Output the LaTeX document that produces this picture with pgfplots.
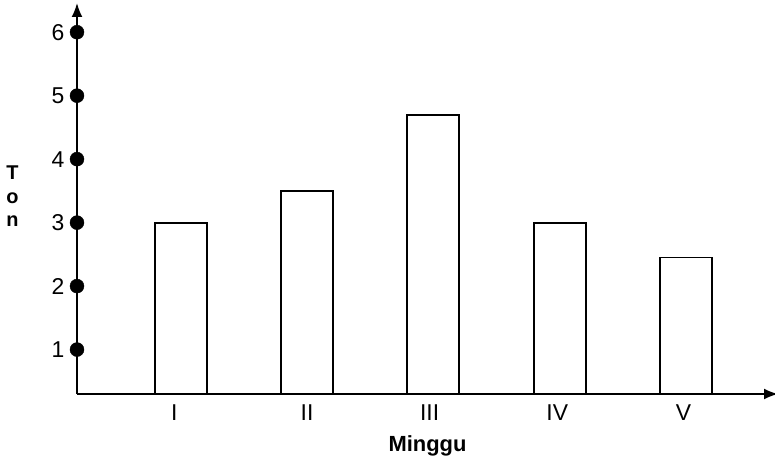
\documentclass[border=0pt]{standalone}
\usepackage{pgfplots}
\pgfplotsset{compat=1.18}
\usepackage{fontspec}
\setmainfont{Liberation Sans}
\usetikzlibrary{arrows.meta}
\begin{document}
\begin{tikzpicture}
\begin{axis}[
  scale only axis, width=701bp, height=391bp,
  xmin=0.18, xmax=5.727, ymin=0.3, ymax=6.46,
  axis lines=left,
  axis line style={line width=1.8bp, -{Latex[length=14bp,width=11bp]}},
  ytick={1,2,3,4,5,6}, xtick={0.95,2.0,2.97,3.98,4.98}, xticklabels={I,II,III,IV,V},
  major tick length=0pt,
  tick label style={font=\fontsize{23}{27}\selectfont},
  yticklabel style={xshift=-9bp},
  xticklabel style={yshift=-7bp},
  /pgf/number format/assume math mode=true,
  xlabel={Minggu},
  ylabel={\begin{tabular}{@{}c@{}}T\\o\\n\end{tabular}},
  every axis x label/.style={at={(axis description cs:0.5,0)}, anchor=north, yshift=-38bp, font=\fontsize{22}{25}\selectfont\bfseries},
  every axis y label/.style={at={(axis description cs:0,0.5)}, anchor=east, xshift=-55bp, font=\fontsize{20}{23.5}\selectfont\bfseries},
]
\addplot[ybar, bar width=52bp, draw=black, line width=1.8bp, fill=none]
  coordinates {(1,3.0) (2,3.5) (3,4.7) (4,3.0) (5,2.45)};
\addplot[only marks, mark=*, mark size=7bp, black]
  coordinates {(0.18,1) (0.18,2) (0.18,3) (0.18,4) (0.18,5) (0.18,6)};
\end{axis}
\pgfresetboundingbox
\path (current axis.south west) ++(-77bp,-70bp) rectangle ++(775bp,464bp);
\end{tikzpicture}
\end{document}
